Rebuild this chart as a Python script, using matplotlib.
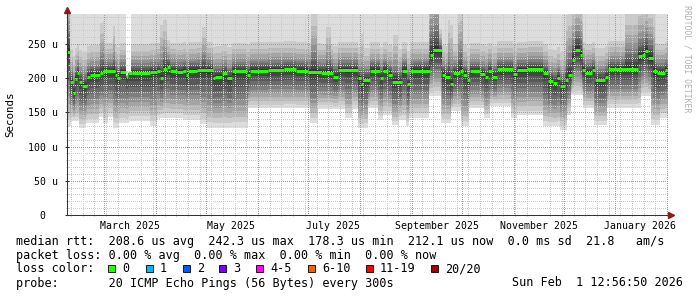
import numpy as np
import matplotlib
matplotlib.use("Agg")
import matplotlib.pyplot as plt
import matplotlib.dates as mdates
from datetime import datetime, timedelta

START = datetime(2025, 2, 6, 12, 56, 50)
END = datetime(2026, 2, 1, 12, 56, 50)
SPAN = 360.0

# median rtt (microseconds), day = days since START
med_day = [0, 1.8, 3.4, 4.8, 6.2, 7.4, 9.0, 11.8, 13.8, 19.8, 21.6, 28.8, 30.1, 31.8,
           35.3, 36.8, 39, 49.7, 53.7, 55.7, 57.5, 59.7, 61.7, 65.7, 69.5, 71.3, 72.5,
           77.9, 87.5, 88.7, 92.7, 95.7, 98.9, 107.9, 109.6, 120.4, 130, 137, 144.4, 152,
           159.4, 162.4, 174.4, 176.2, 177.3, 181.5, 187.5, 189.3, 192.3, 194.7, 200.7,
           203.7, 205.5, 217.5, 219.3, 224.7, 226.5, 229.5, 231.3, 235.5, 237.3, 239.7,
           241.5, 247.5, 250.5, 252.2, 254.6, 257.6, 267.2, 269.6, 275.6, 285.2, 288.2,
           291.2, 293.6, 295.4, 298.4, 300.2, 302.6, 304.4, 307.4, 308.6, 310.4, 314.6,
           316.4, 322.4, 324.1, 342.1, 344.5, 346.3, 348.1, 351.1, 353.5, 358]
med_us = [239, 195, 179, 199, 207, 194, 189, 202, 205, 207, 210, 205, 201, 209,
          203, 207, 207, 209, 210, 201, 213, 216, 210, 209, 211, 205, 211,
          212, 200, 202, 207, 200, 210, 205, 211, 212, 213, 211, 209, 208,
          202, 212, 200, 191, 197, 211, 201, 211, 205, 195, 211,
          192, 211, 234, 241, 205, 202, 191, 207, 211, 205, 197,
          210, 206, 202, 210, 202, 213, 206, 212, 214, 207, 196,
          193, 200, 189, 197, 205, 227, 242, 234, 212, 208, 212,
          197, 202, 214, 232, 234, 240, 229, 210, 208, 212]

# lowest ping of each step (lower edge of the smoke)
lo_day = [0, 2.4, 7.2, 11.4, 19.2, 21.6, 24.6, 27.6, 31.2, 37.1, 49.7, 53.9, 55.7,
          69.5, 79.7, 83.9, 108.4, 145.6, 150.4, 166.6, 170.8, 174.4, 180.3, 186.3,
          189.3, 194.7, 198.9, 203.1, 204.9, 216.9, 224.1, 230.1, 236.1, 240.9, 249.9,
          253.4, 266, 269.6, 285.2, 295.4, 299.6, 302, 309.2, 315.8, 323.5, 343.9,
          349.9, 355.3]
lo_us = [130, 137, 127, 134, 143, 135, 143, 127, 134, 138, 130, 140, 142,
         139, 133, 127, 156, 134, 155, 142, 155, 127, 156, 139,
         146, 131, 139, 130, 142, 174, 134, 152, 130, 156, 142,
         159, 142, 146, 130, 124, 146, 175, 156, 131, 156, 174,
         131, 142]

# highest ping of each step (nan = no upper pings)
hi_day = [0, 2, 20, 22, 27.5, 28.5, 36.8, 38.2, 56, 60, 81, 83, 146, 150, 155, 158,
          176, 178, 195, 198, 217, 223, 228, 231, 234, 237, 299, 309, 334, 352]
hi_us = [520, 330, 420, 330, 400, 330, np.nan, 330, 420, 330, 390, 330, 460, 330, 400, 330,
         400, 330, 390, 330, 560, 330, 440, 330, 480, 330, 470, 330, 450, 330]

x_label_months = [(2025, 3), (2025, 5), (2025, 7), (2025, 9), (2025, 11), (2026, 1)]
x_label_text = ["March 2025", "May 2025", "July 2025", "September 2025",
                "November 2025", "January 2026"]
y_ticks = [0, 50, 100, 150, 200, 250]
y_tick_text = ["0  ", "50 u", "100 u", "150 u", "200 u", "250 u"]

loss_colors = ["#26ff00", "#00b8ff", "#0059ff", "#7e00ff", "#ff00ff", "#ff5e00", "#ff0000", "#a10000"]
loss_labels = ["0", "1", "2", "3", "4-5", "6-10", "11-19", "20/20"]


def hold(days, vals, t):
    idx = np.searchsorted(days, t, side="right") - 1
    return np.asarray(vals, dtype=float)[idx]


def dnum(d):
    return mdates.date2num(START + timedelta(days=float(d)))


t = np.unique(np.concatenate([med_day, lo_day, hi_day, [SPAN]]))
med = hold(med_day, med_us, t)
lo = hold(lo_day, lo_us, t)
hi = hold(hi_day, hi_us, t)
xt = np.array([dnum(d) for d in t])

plt.rcParams["font.family"] = ["DejaVu Sans Mono"]
fig = plt.figure(figsize=(6.97, 2.97), dpi=100)
fig.patch.set_facecolor("white")
ax = fig.add_axes([67 / 697, 82 / 297, 601 / 697, 201 / 297])

# smoke: 10 gray layers, outer = light, inner = dark
frac_lo = [1, 0.9, 0.8, 0.7, 0.6, 0.5, 0.4, 0.28, 0.15, 0.06]
frac_hi = [1, 0.35, 0.27, 0.21, 0.16, 0.12, 0.09, 0.065, 0.04, 0.02]
for k in range(10):
    g = (221 - 19 * k) / 255
    low = med - (med - lo) * frac_lo[k]
    up = med + (hi - med) * frac_hi[k]
    ax.fill_between(xt, low, med, step="post", color=(g, g, g), lw=0, antialiased=False, zorder=1)
    ax.fill_between(xt, med, up, step="post", color=(g, g, g), lw=0, antialiased=False, zorder=1)

# median as green segments
seg_end = list(med_day[1:]) + [SPAN]
ax.hlines(med_us, [dnum(d) for d in med_day], [dnum(d) for d in seg_end],
          colors="#26ff00", lw=2.2, zorder=4)

ax.set_xlim(dnum(0), dnum(SPAN))
ax.set_ylim(0, 294)

# grid (dotted, drawn over the smoke)
ax.set_axisbelow(False)
ax.yaxis.set_major_locator(matplotlib.ticker.FixedLocator(y_ticks))
ax.yaxis.set_minor_locator(matplotlib.ticker.MultipleLocator(10))
ax.set_yticklabels(y_tick_text)
ax.xaxis.set_minor_locator(mdates.WeekdayLocator(byweekday=mdates.SU))
ax.set_xticks([mdates.date2num(datetime(y, m, 16)) for y, m in x_label_months])
ax.set_xticklabels(x_label_text)
dots = (0, (1, 1.5))
red = "#ea7c7c"
ax.grid(which="minor", axis="both", color="#cbcbcb", lw=0.72, ls=dots, antialiased=False)
ax.grid(which="major", axis="y", color=red, lw=0.72, ls=dots, antialiased=False)
ax.grid(which="major", axis="x", visible=False)
m = datetime(2025, 3, 1)
while m <= END:
    ax.axvline(mdates.date2num(m), color=red, lw=0.72, ls=dots, antialiased=False, zorder=2.6)
    m = datetime(m.year + (m.month == 12), m.month % 12 + 1, 1)

for s in ["top", "right"]:
    ax.spines[s].set_visible(False)
for s in ["left", "bottom"]:
    ax.spines[s].set_color("#333333")
    ax.spines[s].set_linewidth(0.72)
    ax.spines[s].set_zorder(5)

ax.tick_params(axis="x", which="major", length=0, pad=4, labelsize=7.1)
ax.tick_params(axis="x", which="minor", length=2, direction="inout", color="#999999")
ax.tick_params(axis="y", which="major", length=3, direction="inout", pad=5, labelsize=7.1, color="#333333")
ax.tick_params(axis="y", which="minor", length=2, direction="inout", color="#999999")
ax.set_ylabel("Seconds", fontsize=7.8, labelpad=9)

# arrows
ax.plot([0], [1.02], marker="^", ms=4, color="#8b1a1a", transform=ax.transAxes, clip_on=False, zorder=6)
ax.plot([1.005], [0], marker=">", ms=4, color="#8b1a1a", transform=ax.transAxes, clip_on=False, zorder=6)

fig.text(687 / 697, 1 - 59 / 297, "RRDTOOL / TOBI OETIKER", rotation=270, fontsize=5.9,
         color="#b0b0b0", ha="center", va="center")

lx = 16 / 697
fs = 8.5
fig.text(lx, 1 - 241.5 / 297,
         "median rtt:  208.6 us avg  242.3 us max  178.3 us min  212.1 us now  0.0 ms sd  21.8   am/s",
         fontsize=fs, va="center")
fig.text(lx, 1 - 255.5 / 297,
         "packet loss: 0.00 % avg  0.00 % max  0.00 % min  0.00 % now", fontsize=fs, va="center")
fig.text(lx, 1 - 269 / 297, "loss color:", fontsize=fs, va="center")
box_x = [108, 146, 183, 219, 256, 308, 366, 431]
for bx, c, lab in zip(box_x, loss_colors, loss_labels):
    fig.patches.append(plt.Rectangle((bx / 697, 1 - 272 / 297), 7 / 697, 7 / 297,
                                     facecolor=c, edgecolor="black", lw=0.6,
                                     transform=fig.transFigure, figure=fig))
    fig.text((bx + 14) / 697, 1 - 269 / 297, lab, fontsize=fs, va="center")
fig.text(lx, 1 - 283 / 297, "probe:       20 ICMP Echo Pings (56 Bytes) every 300s", fontsize=fs, va="center")
fig.text(683 / 697, 1 - 283 / 297, "Sun Feb  1 12:56:50 2026", fontsize=fs, va="center", ha="right")

fig.savefig("out.png", dpi=100, facecolor="white")
